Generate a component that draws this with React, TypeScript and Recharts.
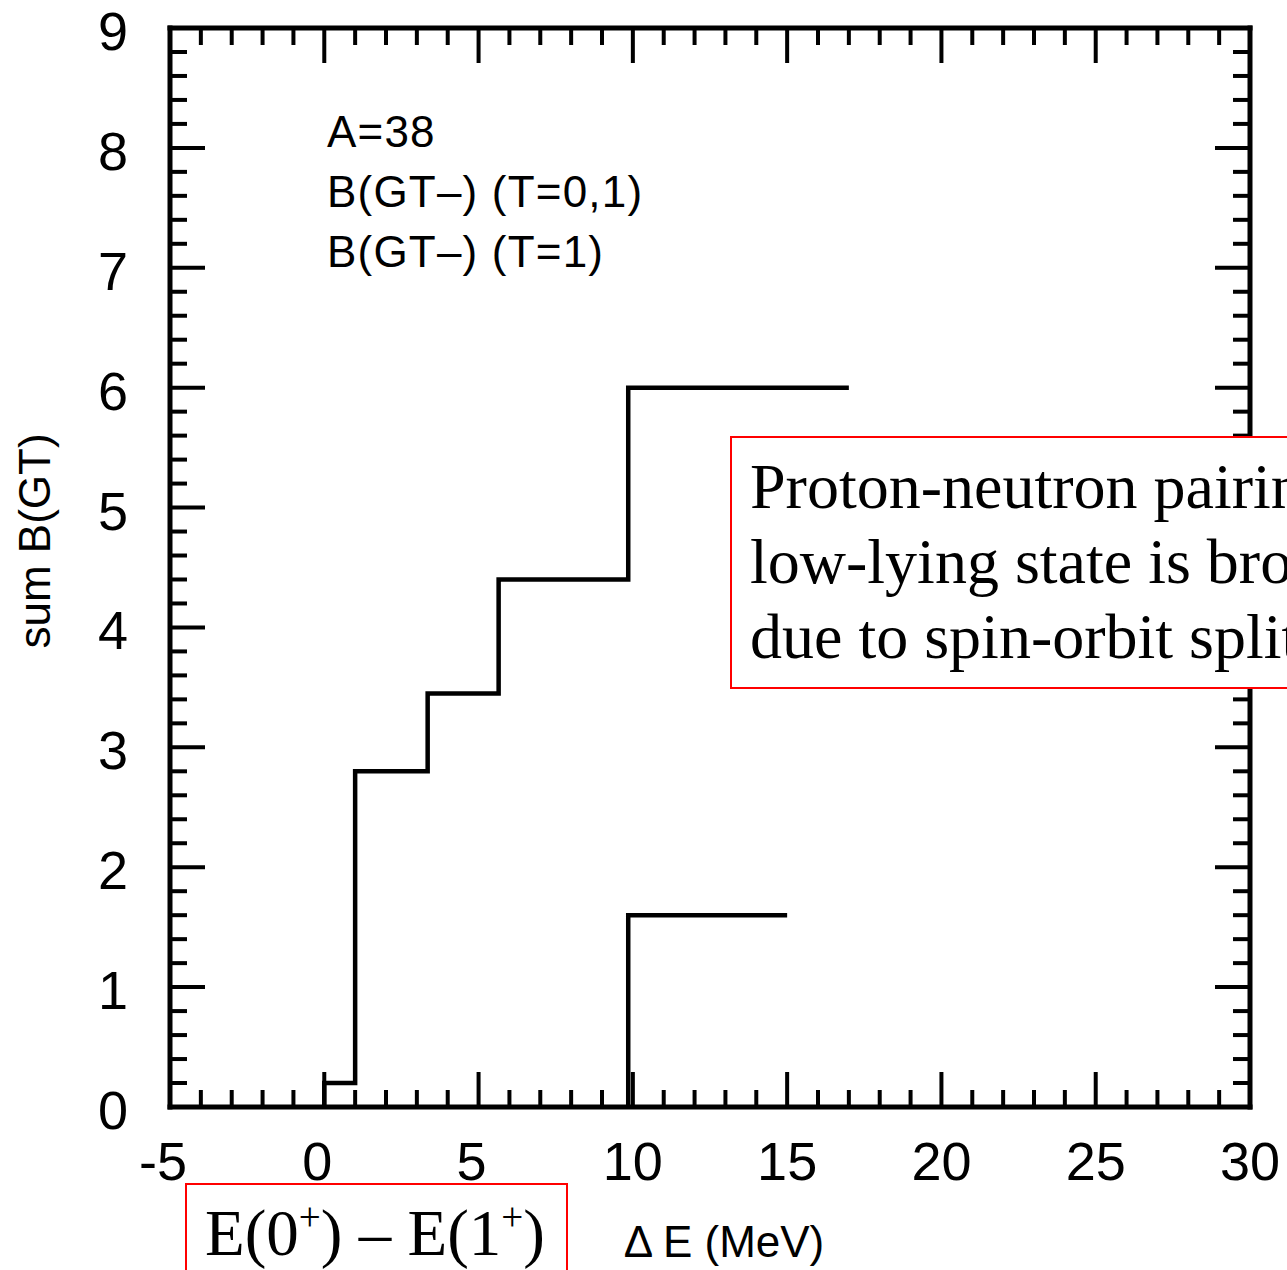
import React from 'react';
import { LineChart, Line, XAxis, YAxis } from 'recharts';

// sum B(GT) step curves (x = ΔE in MeV)
const energiesT01 = [0, 0, 1.0, 3.35, 5.65, 9.85, 17];
const sumT01 = [0, 0.2, 2.8, 3.45, 4.4, 6.0, 6.0];
const energiesT1 = [9.85, 9.85, 15];
const sumT1 = [0, 1.6, 1.6];

const xMajorTicks = [-5, 0, 5, 10, 15, 20, 25, 30];
const yMajorTicks = [0, 1, 2, 3, 4, 5, 6, 7, 8, 9];
const xMinorStep = 1;
const yMinorStep = 0.2;

const annotationLines = ['A=38', 'B(GT–) (T=0,1)', 'B(GT–) (T=1)'];
const boxLines = ['Proton-neutron pairing', 'low-lying state is broken', 'due to spin-orbit splitting'];

const W = 1287;
const H = 1270;
const SANS = '"Liberation Sans", Arial, sans-serif';
const SERIF = '"Liberation Serif", "Times New Roman", serif';

const toPoints = (xs: number[], ys: number[]) => xs.map((x, i) => ({ x, y: ys[i] }));
const seriesT01 = toPoints(energiesT01, sumT01);
const seriesT1 = toPoints(energiesT1, sumT1);

// minor ticks between first and last major tick
const withMinor = (majors: number[], step: number) => {
  const out: number[] = [];
  const n = Math.round((majors[majors.length - 1] - majors[0]) / step);
  for (let i = 0; i <= n; i++) out.push(+(majors[0] + i * step).toFixed(4));
  return out;
};
const xTicks = withMinor(xMajorTicks, xMinorStep);
const yTicks = withMinor(yMajorTicks, yMinorStep);

const isMajor = (v: number, list: number[]) => list.some(m => Math.abs(m - v) < 1e-6);

const MAJOR = 35;
const MINOR = 17;
const TICK_W = 4;

const BottomTick = (props: any) => {
  const { x, y, payload } = props;
  const major = isMajor(payload.value, xMajorTicks);
  // the original's single-digit labels sit a little left of their tick
  const dx = Math.abs(payload.value) < 10 ? -7 : 0;
  return (
    <g>
      <line x1={x} x2={x} y1={y} y2={y - (major ? MAJOR : MINOR)} stroke="#000" strokeWidth={TICK_W} />
      {major && (
        <text x={x + dx} y={y + 73} textAnchor="middle" fontSize={54} fontFamily={SANS} fill="#000">
          {payload.value}
        </text>
      )}
    </g>
  );
};

const TopTick = (props: any) => {
  const { x, y, payload } = props;
  const major = isMajor(payload.value, xMajorTicks);
  return <line x1={x} x2={x} y1={y} y2={y + (major ? MAJOR : MINOR)} stroke="#000" strokeWidth={TICK_W} />;
};

const LeftTick = (props: any) => {
  const { x, y, payload } = props;
  const major = isMajor(payload.value, yMajorTicks);
  return (
    <g>
      <line x1={x} x2={x + (major ? MAJOR : MINOR)} y1={y} y2={y} stroke="#000" strokeWidth={TICK_W} />
      {major && (
        <text x={x - 42} y={y + 22} textAnchor="end" fontSize={54} fontFamily={SANS} fill="#000">
          {Math.round(payload.value)}
        </text>
      )}
    </g>
  );
};

const RightTick = (props: any) => {
  const { x, y, payload } = props;
  const major = isMajor(payload.value, yMajorTicks);
  return <line x1={x} x2={x - (major ? MAJOR : MINOR)} y1={y} y2={y} stroke="#000" strokeWidth={TICK_W} />;
};

const frame = { stroke: '#000', strokeWidth: 5, strokeLinecap: 'square' as const };

export default function App() {
  return (
    <div style={{ position: 'absolute', left: 0, top: 0, width: W, height: H, overflow: 'hidden', background: '#fff' }}>
      <LineChart width={W} height={H} margin={{ top: 27, right: 36, bottom: 73, left: 50 }}>
        <XAxis
          dataKey="x"
          type="number"
          domain={[-5, 30]}
          ticks={xTicks}
          interval={0}
          height={90}
          tickSize={0}
          tickMargin={0}
          tickLine={false}
          axisLine={frame}
          tick={BottomTick}
        />
        <XAxis
          xAxisId="top"
          dataKey="x"
          orientation="top"
          type="number"
          domain={[-5, 30]}
          ticks={xTicks}
          interval={0}
          height={1}
          tickSize={0}
          tickMargin={0}
          tickLine={false}
          axisLine={frame}
          tick={TopTick}
        />
        <YAxis
          type="number"
          domain={[0, 9]}
          ticks={yTicks}
          interval={0}
          width={120}
          tickSize={0}
          tickMargin={0}
          tickLine={false}
          axisLine={frame}
          tick={LeftTick}
        />
        <YAxis
          yAxisId="right"
          orientation="right"
          type="number"
          domain={[0, 9]}
          ticks={yTicks}
          interval={0}
          width={1}
          tickSize={0}
          tickMargin={0}
          tickLine={false}
          axisLine={frame}
          tick={RightTick}
        />
        <Line
          data={seriesT01}
          dataKey="y"
          type="stepAfter"
          stroke="#000"
          strokeWidth={4.5}
          dot={false}
          isAnimationActive={false}
        />
        <Line
          data={seriesT1}
          dataKey="y"
          type="stepAfter"
          stroke="#000"
          strokeWidth={4.5}
          dot={false}
          isAnimationActive={false}
        />
        {/* invisible copy so the top and right mirror axes get a scale and draw their ticks */}
        <Line
          xAxisId="top"
          yAxisId="right"
          data={seriesT01}
          dataKey="y"
          type="stepAfter"
          stroke="none"
          dot={false}
          activeDot={false}
          legendType="none"
          isAnimationActive={false}
        />
      </LineChart>

      <svg width={W} height={H} style={{ position: 'absolute', left: 0, top: 0, pointerEvents: 'none' }}>
        {annotationLines.map((t, i) => (
          <text key={t} x={327} y={147 + i * 60} fontSize={44} letterSpacing={1.2} fontFamily={SANS} fill="#000">
            {t}
          </text>
        ))}
        <text
          transform="translate(50,541) rotate(-90)"
          textAnchor="middle"
          fontSize={44}
          fontFamily={SANS}
          fill="#000"
        >
          sum B(GT)
        </text>
        <text x={724} y={1257} textAnchor="middle" fontSize={44} fontFamily={SANS} fill="#000">
          Δ E (MeV)
        </text>

        <rect x={731} y={437} width={700} height={251} fill="#fff" stroke="#ff0000" strokeWidth={2} />
        {boxLines.map((t, i) => (
          <text key={t} x={750} y={508 + i * 75} fontSize={64} fontFamily={SERIF} fill="#000">
            {t}
          </text>
        ))}

        <rect x={186} y={1184} width={381} height={200} fill="#fff" stroke="#ff0000" strokeWidth={2} />
        <text x={205} y={1255} fontSize={65} fontFamily={SERIF} fill="#000">
          E(0<tspan fontSize={39} dy={-25}>+</tspan>
          <tspan dy={25}>) – E(1</tspan>
          <tspan fontSize={39} dy={-25}>+</tspan>
          <tspan dy={25}>)</tspan>
        </text>
      </svg>
    </div>
  );
}
